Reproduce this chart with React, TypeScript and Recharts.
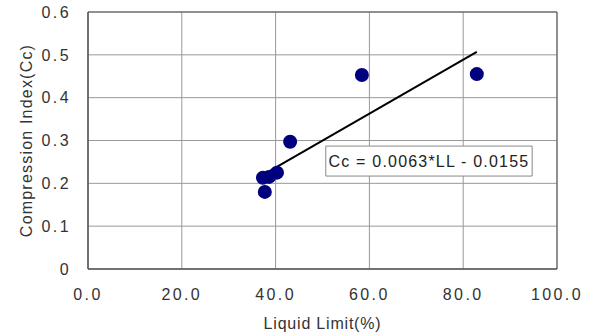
import React from "react";
import {
  ScatterChart,
  Scatter,
  XAxis,
  YAxis,
  CartesianGrid,
  ReferenceLine,
  ReferenceArea,
} from "recharts";

// Liquid limit (%) vs compression index (Cc)
const liquidLimit = [37.3, 38.6, 40.3, 37.7, 43.1, 58.4, 82.9];
const compressionIndex = [0.213, 0.215, 0.225, 0.18, 0.297, 0.453, 0.455];

const xTicks = [0, 20, 40, 60, 80, 100];
const yTicks = [0, 0.1, 0.2, 0.3, 0.4, 0.5, 0.6];

// fitted trend line: Cc = 0.0063*LL - 0.0155
const slope = 0.0063;
const intercept = -0.0155;
const equationText = "Cc = 0.0063*LL - 0.0155";

const points = liquidLimit.map((ll, i) => ({ ll, cc: compressionIndex[i] }));
const llMin = Math.min(...liquidLimit);
const llMax = Math.max(...liquidLimit);
const trend = [
  { x: llMin, y: slope * llMin + intercept },
  { x: llMax, y: slope * llMax + intercept },
];

const font = "'Liberation Sans', Arial, sans-serif";
const textColor = "#333";

const EquationLabel = (props: any) => {
  const { viewBox } = props;
  const cx = viewBox.x + viewBox.width / 2;
  const cy = viewBox.y + viewBox.height / 2;
  return (
    <text
      x={cx}
      y={cy}
      textAnchor="middle"
      dominantBaseline="central"
      fontFamily={font}
      fontSize={16}
      letterSpacing={1.2}
      fill="#222"
    >
      {equationText}
    </text>
  );
};

export default function App() {
  return (
    <div style={{ position: "absolute", left: 0, top: 0, width: 593, height: 336, background: "#fff" }}>
      <ScatterChart
        width={593}
        height={336}
        margin={{ top: 12, right: 36, bottom: 0, left: 0 }}
      >
        <CartesianGrid stroke="#999" strokeWidth={1} />
        <XAxis
          type="number"
          dataKey="ll"
          domain={[0, 100]}
          ticks={xTicks}
          tickFormatter={(v: number) => v.toFixed(1)}
          height={67}
          axisLine={{ stroke: "#555" }}
          tickLine={false}
          tickSize={0}
          tickMargin={20}
          tick={{ fill: textColor, fontSize: 16, fontFamily: font, letterSpacing: 2.4 }}
          label={{
            value: "Liquid Limit(%)",
            position: "insideBottom",
            offset: 7,
            fill: textColor,
            fontSize: 16,
            fontFamily: font,
            letterSpacing: 0.8,
          }}
        />
        <YAxis
          type="number"
          dataKey="cc"
          domain={[0, 0.6]}
          ticks={yTicks}
          tickFormatter={(v: number) => (v === 0 ? "0" : String(v))}
          width={88}
          axisLine={{ stroke: "#555" }}
          tickLine={false}
          tickSize={0}
          tickMargin={17}
          tick={{ fill: textColor, fontSize: 16, fontFamily: font, letterSpacing: 2.4 }}
          label={{
            value: "Compression Index(Cc)",
            angle: -90,
            position: "insideLeft",
            offset: 26,
            style: { textAnchor: "middle" },
            fill: textColor,
            fontSize: 16,
            fontFamily: font,
            letterSpacing: 1.2,
          }}
        />
        <ReferenceArea
          x1={0}
          x2={100}
          y1={0}
          y2={0.6}
          fill="none"
          stroke="#555"
          strokeWidth={1}
        />
        <ReferenceLine
          segment={trend}
          stroke="#000"
          strokeWidth={2}
          ifOverflow="extendDomain"
        />
        <Scatter
          data={points}
          fill="#00007f"
          isAnimationActive={false}
          shape={(p: any) => <circle cx={p.cx} cy={p.cy} r={7} fill="#00007f" />}
        />
        <ReferenceArea
          x1={50.7}
          x2={94.7}
          y1={0.217}
          y2={0.287}
          fill="#fff"
          fillOpacity={1}
          stroke="#888"
          strokeWidth={1}
          label={<EquationLabel />}
        />
      </ScatterChart>
    </div>
  );
}
